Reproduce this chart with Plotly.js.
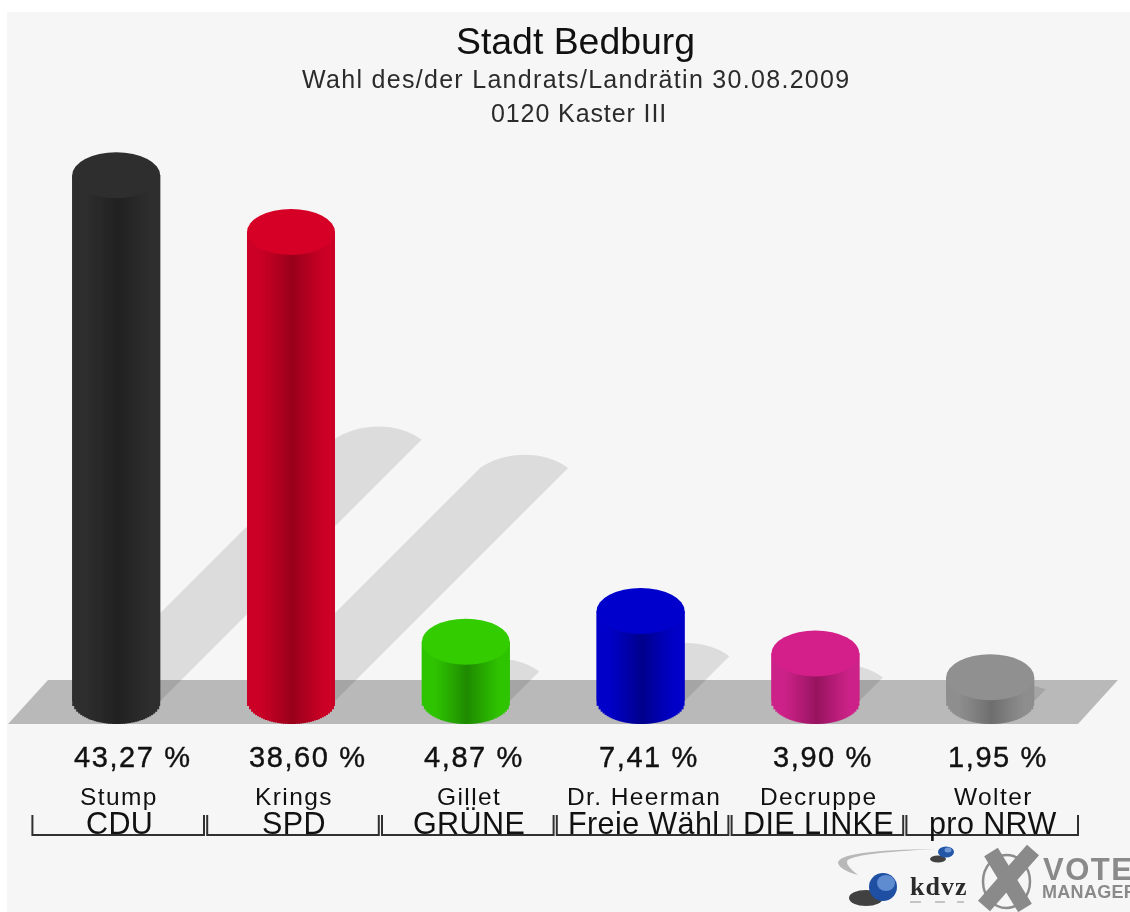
<!DOCTYPE html>
<html>
<head>
<meta charset="utf-8">
<script src="https://cdn.plot.ly/plotly-3.0.1.min.js"></script>
<style>
html,body{margin:0;padding:0;background:#fff;overflow:hidden;width:1130px;height:912px}
#chart{width:1130px;height:912px;filter:blur(0.55px)}
</style>
</head>
<body>
<div id="chart"></div>
<script>
const candidates = ["Stump","Krings","Gillet","Dr. Heerman","Decruppe","Wolter"];
const parties = ["CDU","SPD","GRÜNE","Freie Wähl","DIE LINKE","pro NRW"];
const shares = [43.27,38.60,4.87,7.41,3.90,1.95];
const capColors = ["#2e2e2e","#d60026","#33cc00","#0000cc","#d41f8a","#909090"];
const edgeColors = ["#2e2e2e","#cc0026","#2fc400","#0000c8","#cc2288","#8e8e8e"];
const darkColors = ["#212121","#98001a","#1f8a00","#00008c","#97145f","#6e6e6e"];
const titleText = "Stadt Bedburg";
const subtitleText = "Wahl des/der Landrats/Landrätin 30.08.2009";
const areaText = "0120 Kaster III";

const W = 1130, H = 912;
const pxPerCat = 174.8, firstCat = 116.2, pxPerPct = 12.15, zeroY = 701;
const xRange = [(0-firstCat)/pxPerCat, (W-firstCat)/pxPerCat];
const yRange = [(zeroY-H)/pxPerPct, zeroY/pxPerPct];
const barPx = 88, rxPx = 44, ryPx = 23;
const dx = p => p/pxPerCat, dy = p => p/pxPerPct;
const px = x => x/W, py = y => 1-y/H;
const idx = candidates.map((_,i)=>i);

function hex(c){return [1,3,5].map(k=>parseInt(c.substr(k,2),16));}
function mix(a,b,g){const A=hex(a),B=hex(b);return "rgb("+A.map((v,i)=>Math.round(v+(B[i]-v)*g)).join(",")+")";}

// cylinder body: one bar strip per 2 px of width, shaded across and rounded at the foot
const N = barPx/2, w = dx(barPx), sw = w/N, ry = dy(ryPx);
const sx=[],sy=[],sb=[],sc=[];
idx.forEach(i=>{
  for(let k=0;k<N;k++){
    const t=(k+0.5)/N*2-1;
    const s=Math.max(0,1-Math.abs(t-0.03)/0.75);
    const b=-ry*Math.sqrt(1-t*t);
    const wide = k<N-1 ? 0.5*sw : 0;
    sx.push(i+t*w/2+wide/2); sb.push(b); sy.push(shares[i]-b);
    sc.push(mix(edgeColors[i],darkColors[i],Math.pow(s,1.1)));
  }
});
const sWidths = sx.map((_,n)=> (n%N)===N-1 ? sw : 1.5*sw);

const data = [
  {type:"bar",x:idx,y:shares,width:w,marker:{color:capColors},hoverinfo:"skip",name:"Anteil"},
  {type:"bar",x:sx,y:sy,base:sb,width:sWidths,marker:{color:sc,line:{width:0}},hoverinfo:"skip",name:"Körper"}
];

const shapes = [];
// background panel and floor
shapes.push({type:"rect",xref:"paper",yref:"paper",x0:px(7),x1:1,y0:0,y1:py(12),fillcolor:"#f6f6f6",line:{width:0},layer:"below"});
shapes.push({type:"path",xref:"paper",yref:"paper",layer:"below",fillcolor:"#b9b9b9",line:{width:0},
  path:`M${px(8)},${py(724)}L${px(48)},${py(680)}L${px(1118)},${py(680)}L${px(1078)},${py(724)}Z`});
// cast shadows
idx.forEach(i=>{
  const d=shares[i]*pxPerPct*0.497;
  const xl=i-dx(rxPx), xr=i+dx(rxPx), sh=d/pxPerCat, sv=d/pxPerPct;
  const capH = Math.min(13, d*0.55);
  shapes.push({type:"path",xref:"x",yref:"y",layer:"below",fillcolor:"rgba(0,0,0,0.105)",line:{width:0},
    path:`M${xl},0L${xl+sh},${sv}`+
      `C${xl+sh+dx(22)},${sv+dy(capH*1.2)} ${xl+sh+dx(62)},${sv+dy(capH*1.5)} ${xr+sh},${sv}`+
      `L${xr},0Z`});
});
// cylinder tops
idx.forEach(i=>{
  shapes.push({type:"circle",xref:"x",yref:"y",layer:"above",fillcolor:capColors[i],line:{width:0},
    x0:i-dx(rxPx),x1:i+dx(rxPx),y0:shares[i]-ry,y1:shares[i]+ry});
});
// label brackets
idx.forEach(i=>{
  const c=i+dx(2), h=dx(85.8);
  shapes.push({type:"path",xref:"x",yref:"paper",layer:"above",line:{color:"#303030",width:2},
    path:`M${c-h},${py(815)}L${c-h},${py(835)}L${c+h},${py(835)}L${c+h},${py(815)}`});
});
// logos
function logoPath(d,fill){shapes.push({type:"path",xref:"paper",yref:"paper",layer:"above",fillcolor:fill,line:{width:0},path:d});}
function P(x,y){return px(x)+","+py(y);}
logoPath(`M${P(937,849)}Q${P(838,850)} ${P(838,863)}Q${P(840,870)} ${P(858,875)}Q${P(846,866)} ${P(847,861)}Q${P(852,853)} ${P(937,849)}Z`,"#b8b8b8");
function oval(cx,cy,rx,ry,fill){shapes.push({type:"circle",xref:"paper",yref:"paper",layer:"above",fillcolor:fill,line:{width:0},x0:px(cx-rx),x1:px(cx+rx),y0:py(cy+ry),y1:py(cy-ry)});}
oval(866,898,17,8,"rgba(20,20,20,0.8)");
oval(938,859,8,3.5,"rgba(20,20,20,0.8)");
oval(946,852,8,5.5,"#2456a8");
oval(883,887,14,14,"#1f4fa3");
oval(886,883,9,8,"#5f8bd0");
oval(948,850,3.5,2.5,"#6f97d6");
[[910,921],[935,945],[957,964]].forEach(s=>{
  shapes.push({type:"line",xref:"paper",yref:"paper",layer:"above",line:{color:"#c4c4c4",width:2},x0:px(s[0]),x1:px(s[1]),y0:py(902),y1:py(902)});
});
shapes.push({type:"circle",xref:"paper",yref:"paper",layer:"above",fillcolor:"rgba(0,0,0,0)",line:{color:"#8c8c8c",width:2.5},x0:px(983),x1:px(1030),y0:py(908),y1:py(855)});
[[991,852,1025,908],[1033,850,984,906]].forEach(l=>{
  shapes.push({type:"line",xref:"paper",yref:"paper",layer:"above",line:{color:"#8a8a8a",width:16},x0:px(l[0]),x1:px(l[2]),y0:py(l[1]),y1:py(l[3])});
});

const FONT = "'Liberation Sans', Arial, sans-serif";
const annotations = [];
function label(text,x,xref,y,size,color,spacing,anchor,family,stroke){
  const style=`letter-spacing:${spacing||0}px`+(stroke?`;stroke:${color};stroke-width:${stroke}px`:"");
  annotations.push({text:`<span style="${style}">${text}</span>`,x,xref,y:py(y),yref:"paper",xanchor:anchor||"center",yanchor:"middle",showarrow:false,
    font:{family:family||FONT,size,color:color||"#1a1a1a"},align:"center"});
}
label(subtitleText,px(575.5),"paper",79,25,"#2b2b2b",1.3);
label(areaText,px(579),"paper",113,25,"#2b2b2b",0.9);
idx.forEach(i=>{
  const p=shares[i].toFixed(2).replace(".",",")+" %";
  label(p,i-dx(44),"x",757,29,"#111",1.6,"left",FONT,0.4);
  label(candidates[i],i+dx(3),"x",796,24.5,"#111",1.4);
  label(parties[i],i+dx(3),"x",823,30.5,"#111",0.4);
});
label("<b>kdvz</b>",px(908),"paper",886,26,"#2a2a2a",1,"left","'Liberation Serif', serif");
label("<b>VOTE</b>",px(1041),"paper",869,31,"#8a8a8a",1.5,"left");
label("<b>MANAGER</b>",px(1040),"paper",892,18,"#8a8a8a",0.3,"left");

const layout = {
  width:W,height:H,margin:{l:0,r:0,t:0,b:0,pad:0},
  paper_bgcolor:"#ffffff",plot_bgcolor:"rgba(0,0,0,0)",
  barmode:"overlay",showlegend:false,
  title:{text:titleText,x:px(575.5),y:py(41),xanchor:"center",yanchor:"middle",font:{family:FONT,size:37.4,color:"#111"},automargin:false},
  xaxis:{range:xRange,visible:false,fixedrange:true},
  yaxis:{range:yRange,visible:false,fixedrange:true},
  shapes,annotations
};
Plotly.newPlot("chart",data,layout,{displayModeBar:false,staticPlot:true});
</script>
</body>
</html>
